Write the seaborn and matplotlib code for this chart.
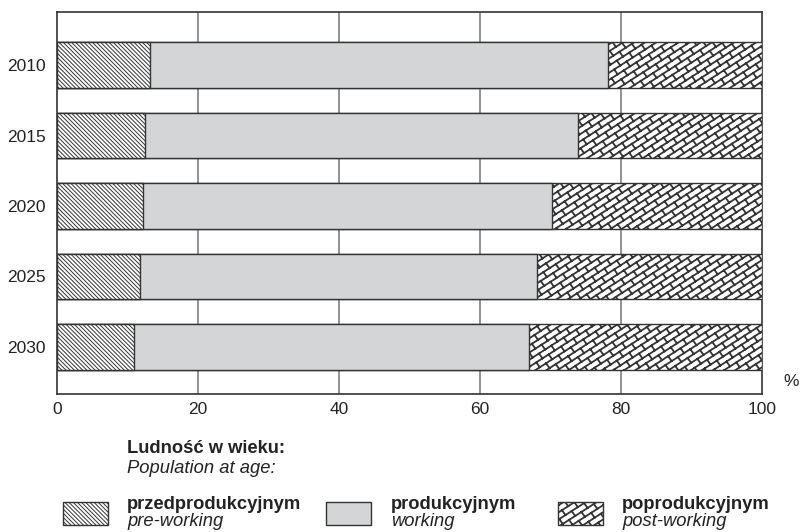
import matplotlib
matplotlib.use("Agg")
import matplotlib.pyplot as plt
import matplotlib.hatch as mhatch
from matplotlib.path import Path
import seaborn as sns
import pandas as pd
import numpy as np
from matplotlib.patches import Rectangle

years = ["2010", "2015", "2020", "2025", "2030"]
pre_working = [13.2, 12.5, 12.2, 11.8, 10.9]
working = [65.0, 61.4, 58.0, 56.3, 56.1]
post_working = [21.8, 26.1, 29.8, 31.9, 33.0]
x_ticks = [0, 20, 40, 60, 80, 100]


# ---- custom "brick" hatch (used for '*') ----
class BrickHatch(mhatch.HatchPatternBase):
    # brick-space -> unit tile mapping (periodic in the unit tile)
    _M = np.array([[14.0, -4.0], [9.0, 5.5]]) / 113.0

    def __init__(self, hatch, density):
        self.on = hatch.count("*") > 0
        segs = []
        if self.on:
            for k in range(-10, 16):
                segs.append(((-2.0, k), (12.0, k)))
            for k in range(-10, 15):
                off = 0.5 * (k % 2)
                for j in range(-2, 13):
                    u = j + off
                    segs.append(((u, k), (u, k + 1)))
        self.segs = segs
        self.num_vertices = 2 * len(segs)

    def set_vertices_and_codes(self, vertices, codes):
        pts = np.array(self.segs, dtype=float).reshape(-1, 2)
        vertices[:] = pts @ self._M.T
        codes[0::2] = Path.MOVETO
        codes[1::2] = Path.LINETO


mhatch._hatch_types[:] = [t for t in mhatch._hatch_types
                          if t.__name__ != "Stars"] + [BrickHatch]

sns.set_theme(style="white")
plt.rcParams["font.family"] = ["Liberation Sans", "DejaVu Sans"]
plt.rcParams["hatch.linewidth"] = 0.7
plt.rcParams["hatch.color"] = "#333333"

PRE_HATCH = "\\" * 8
POST_HATCH = "*"
BRICK_LW = 1.3

df = pd.DataFrame({
    "year": years,
    "pre": pre_working,
    "work": working,
    "post": post_working,
})
df["c1"] = df["pre"]
df["c2"] = df["pre"] + df["work"]
df["c3"] = df["pre"] + df["work"] + df["post"]

fig = plt.figure(figsize=(8.01, 5.32), dpi=100)
ax = fig.add_axes([57 / 801, 1 - 394 / 532, 705 / 801, 382 / 532])

edge = "#333333"
common = dict(orient="h", width=0.64, edgecolor=edge, linewidth=1.0, ax=ax, zorder=3)
sns.barplot(data=df, x="c3", y="year", color="white", hatch=POST_HATCH, **common)
n_post = len(ax.patches)
sns.barplot(data=df, x="c2", y="year", color="#d4d5d6", **common)
sns.barplot(data=df, x="c1", y="year", color="white", hatch=PRE_HATCH, **common)
for i, p in enumerate(ax.patches):
    if i < n_post and hasattr(p, "set_hatch_linewidth"):
        p.set_hatch_linewidth(BRICK_LW)

ax.set_xlim(0, 100)
ax.set_ylim(4.667, -0.752)
ax.set_xticks(x_ticks)
ax.set_xticklabels([str(t) for t in x_ticks], fontsize=12.5, color="#222222")
ax.set_yticklabels(years, fontsize=12.5, color="#222222")
ax.tick_params(axis="y", length=0, pad=8)
ax.tick_params(axis="x", length=0, pad=6)
ax.set_xlabel("")
ax.set_ylabel("")
for x in x_ticks[1:-1]:
    ax.axvline(x, color="#8a8a8a", linewidth=1.3, zorder=1)
for s in ax.spines.values():
    s.set_color("#333333")
    s.set_linewidth(1.2)
    s.set_visible(True)
ax.grid(False)

fig.text(791 / 801, 1 - 382 / 532, "%", fontsize=12.5, color="#222222", ha="center", va="center")

# legend
FS = 13.2
fig.text(127 / 801, 1 - 453 / 532, "Ludność w wieku:", fontsize=FS, fontweight="bold",
         color="#222222", va="baseline")
fig.text(127 / 801, 1 - 473 / 532, "Population at age:", fontsize=FS, style="italic",
         color="#222222", va="baseline")

items = [
    (63, 127, "przedprodukcyjnym", "pre-working", "white", PRE_HATCH, 0.7),
    (326, 391, "produkcyjnym", "working", "#d4d5d6", None, 0.7),
    (558, 622, "poprodukcyjnym", "post-working", "white", POST_HATCH, BRICK_LW),
]
for px, tx, t1, t2, fc, h, hlw in items:
    r = Rectangle((px / 801, 1 - 525 / 532), 45 / 801, 23 / 532, transform=fig.transFigure,
                  facecolor=fc, edgecolor=edge, linewidth=1.0, hatch=h)
    if hasattr(r, "set_hatch_linewidth"):
        r.set_hatch_linewidth(hlw)
    fig.patches.append(r)
    fig.text(tx / 801, 1 - 509 / 532, t1, fontsize=FS, fontweight="bold", color="#222222",
             va="baseline")
    fig.text(tx / 801, 1 - 526.5 / 532, t2, fontsize=FS, style="italic", color="#222222",
             va="baseline")

fig.savefig("out.png", dpi=100)
